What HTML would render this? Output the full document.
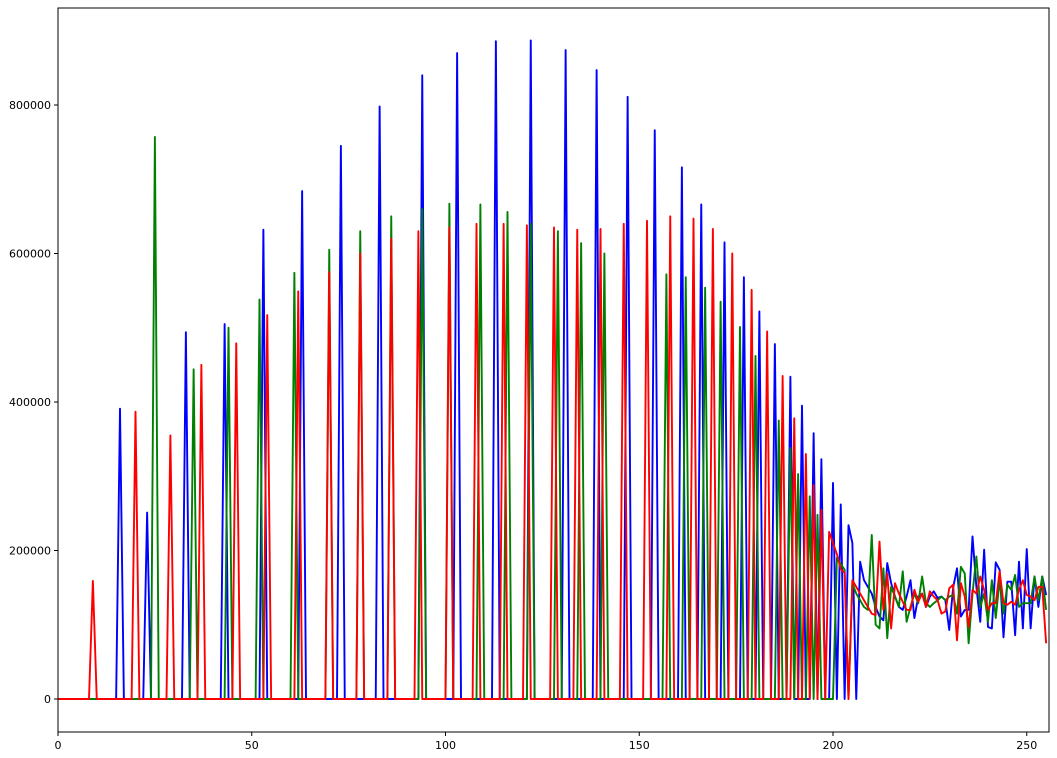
<!DOCTYPE html>
<html><head><meta charset="utf-8"><style>
body{margin:0;background:#fff;}
svg{display:block;font-family:"DejaVu Sans","Liberation Sans",sans-serif;}
</style></head><body>
<svg id="chart" width="1057" height="758" xmlns="http://www.w3.org/2000/svg">
<rect x="0" y="0" width="1057" height="758" fill="#fff"/>
<g id="plot"></g>
<g id="axes"></g>
</svg>
<script>
// Data (values in thousands)
const blueBins = [16,23,33,43,53,63,73,83,94,103,113,122,131,139,147,154,161,166,172,177,181,185,189,192,195,197,200,202,204,205];
const blueVals = [391,251,494,505,632,684,745,798,840,870,886,887,874,847,811,766,716,666,615,568,522,478,434,395,358,323,291,262,234,210];
const blueTail = [185,160,151,142,124,111,106,183,156,138,124,120,138,160,109,138,142,124,138,145,136,138,133,93,150,176,111,120,120,219,151,104,201,97,95,184,174,83,158,158,86,185,95,202,95,165,124,165,140];
const greenBins = [25,35,44,52,61,70,78,86,94,101,109,116,122,129,135,141,157,162,167,171,176,180,186,189,191,194,196,201,202,203];
const greenVals = [757,444,500,538,574,605,630,650,660,667,666,656,640,630,614,600,572,568,554,535,501,462,375,338,303,273,248,190,182,174];
const greenTail = [156,142,133,124,120,221,100,95,176,82,151,138,124,172,104,124,142,129,165,129,124,129,133,138,133,138,140,115,178,169,75,142,192,124,142,104,160,109,160,115,154,147,167,124,129,129,129,165,133,165,120];
const redBins = [9,20,29,37,46,54,62,70,78,86,93,101,108,115,121,128,134,140,146,152,158,164,169,174,179,183,187,190,193,195,197,199,200,201,202,203];
const redVals = [159,387,355,450,479,517,549,575,600,620,630,635,640,640,638,635,632,633,640,644,650,647,633,600,551,495,435,378,330,288,255,225,210,195,175,170];
const redTail = [160,151,142,133,124,115,113,212,120,169,95,156,142,131,120,120,147,131,142,124,145,138,133,115,118,149,154,79,156,138,97,147,142,165,147,120,129,129,172,129,127,131,127,147,160,140,138,133,151,151,75];
const xTicks = [0,50,100,150,200,250];
const yTicks = [0,200000,400000,600000,800000];

const L=58,T=8,R=1049,B=732;
const xMin=0,xMax=(R-L)/3.875,yMin=-44444,yMax=930640;
const sx=v=>L+(v-xMin)/(xMax-xMin)*(R-L);
const sy=v=>B-(v-yMin)/(yMax-yMin)*(B-T);
const NS="http://www.w3.org/2000/svg";

function build(bins,vals,tail,tailStart){
  const a=new Array(256).fill(0);
  bins.forEach((b,i)=>{a[b]=vals[i]*1000;});
  tail.forEach((v,i)=>{if(tailStart+i<256)a[tailStart+i]=v*1000;});
  return a;
}
const series=[
  {name:'blue-channel-line',color:'#0000ff',data:build(blueBins,blueVals,blueTail,207)},
  {name:'green-channel-line',color:'#008000',data:build(greenBins,greenVals,greenTail,205)},
  {name:'red-channel-line',color:'#ff0000',data:build(redBins,redVals,redTail,205)}
];
const plot=document.getElementById('plot');
series.forEach(s=>{
  const p=document.createElementNS(NS,'polyline');
  p.setAttribute('points',s.data.map((v,i)=>sx(i).toFixed(2)+','+sy(v).toFixed(2)).join(' '));
  p.setAttribute('fill','none');
  p.setAttribute('stroke',s.color);
  p.setAttribute('stroke-width','1.9');
  p.setAttribute('stroke-linejoin','round');
  
  
  plot.appendChild(p);
});
const axes=document.getElementById('axes');
const frame=document.createElementNS(NS,'rect');
frame.setAttribute('x',L);frame.setAttribute('y',T);
frame.setAttribute('width',R-L);frame.setAttribute('height',B-T);
frame.setAttribute('fill','none');frame.setAttribute('stroke','#000');frame.setAttribute('stroke-width','1');


axes.appendChild(frame);
xTicks.forEach(t=>{
  const x=sx(t);
  const l=document.createElementNS(NS,'line');
  l.setAttribute('x1',x);l.setAttribute('x2',x);l.setAttribute('y1',B);l.setAttribute('y2',B+4);l.setAttribute('stroke','#000');
  
  
  axes.appendChild(l);
  const tx=document.createElementNS(NS,'text');
  tx.setAttribute('x',x);tx.setAttribute('y',B+17);tx.setAttribute('text-anchor','middle');tx.setAttribute('font-size','11');
  tx.textContent=t;
  
  
  axes.appendChild(tx);
});
yTicks.forEach(t=>{
  const y=sy(t);
  const l=document.createElementNS(NS,'line');
  l.setAttribute('x1',L-4);l.setAttribute('x2',L);l.setAttribute('y1',y);l.setAttribute('y2',y);l.setAttribute('stroke','#000');
  
  
  axes.appendChild(l);
  const tx=document.createElementNS(NS,'text');
  tx.setAttribute('x',L-7);tx.setAttribute('y',y+4);tx.setAttribute('text-anchor','end');tx.setAttribute('font-size','11');
  tx.textContent=t;
  
  
  axes.appendChild(tx);
});
</script>
</body></html>
